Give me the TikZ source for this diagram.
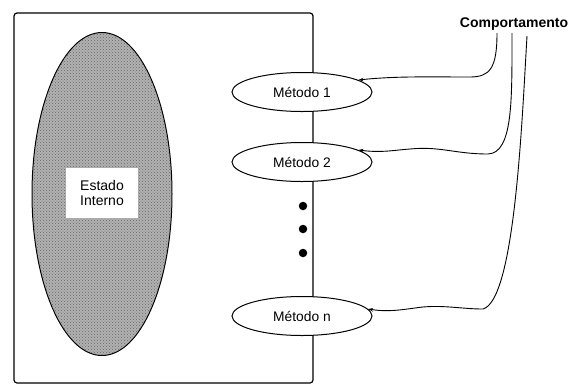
\documentclass[tikz,border=0pt]{standalone}
\usepackage{fontspec}
\setmainfont{Liberation Sans}
\usetikzlibrary{shapes.geometric,arrows.meta,patterns}
\begin{document}
\begin{tikzpicture}[x=1pt,y=-1pt,
  metodo/.style={draw,ellipse,fill=white,line width=1pt,minimum width=140pt,minimum height=39pt,inner sep=0pt,font=\fontsize{13.8}{15}\selectfont},
  link/.style={line width=0.9pt,-{Stealth[length=5pt,width=3.5pt]}},
  punto/.style={circle,fill=black,inner sep=0pt,minimum size=8.5pt}]
\useasboundingbox (0,0) rectangle (573,384);
\draw[line width=1.2pt,rounded corners=3pt] (14,13) rectangle (313,383);
\node[ellipse,draw,line width=1pt,fill=gray!60,minimum width=140pt,minimum height=323pt,inner sep=0pt] (estado) at (102,194) {};
\fill[pattern=crosshatch dots,pattern color=black!60] (102,194) ellipse [x radius=69.5pt,y radius=161pt];
\node[fill=white,minimum width=72pt,minimum height=50pt,align=center,font=\fontsize{14}{15}\selectfont] (interno) at (102,193) {Estado\\Interno};
\node[metodo] (m1) at (302,92) {Método 1};
\node[metodo] (m2) at (302,162) {Método 2};
\node[metodo] (mn) at (302,316) {Método n};
\node[punto] (d1) at (303,206) {};
\node[punto] (d2) at (303,229) {};
\node[punto] (d3) at (303,253) {};
\node[font=\bfseries\fontsize{14}{15}\selectfont] (comp) at (514,24) {Comportamento};
\coordinate (c1) at (497,33);
\coordinate (c2) at (512,33);
\coordinate (c3) at (527,36);
\draw[link] (c1) .. controls (497,68) and (490,77) .. (470,77) .. controls (430,77) and (395,76) .. (m1.12);
\draw[link] (c2) .. controls (512,100) and (513,153) .. (488,154) .. controls (455,154) and (440,146) .. (410,149) .. controls (395,150) and (382,153) .. (m2.12);
\draw[link] (c3) .. controls (522,120) and (515,300) .. (483,309) .. controls (460,309) and (440,304) .. (415,308) .. controls (400,310) and (388,312) .. (mn.6);
\end{tikzpicture}
\end{document}
